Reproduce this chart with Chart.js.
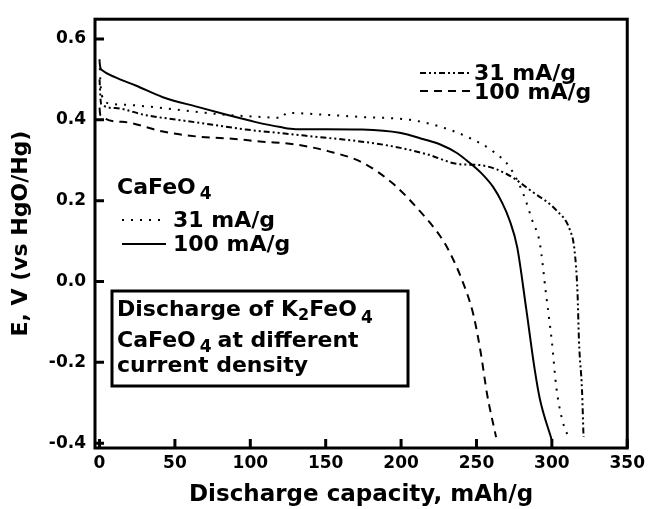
<!DOCTYPE html>
<html lang="en">
<head>
<meta charset="UTF-8">
<title>Discharge of K2FeO4 and CaFeO4</title>
<script src="https://cdn.jsdelivr.net/npm/chart.js@4.4.1/dist/chart.umd.min.js"></script>
<style>
  html, body { margin: 0; padding: 0; background: #fff; }
  #wrap { width: 650px; height: 509px; }
</style>
</head>
<body>
<div id="wrap"><canvas id="chart" width="650" height="509"></canvas></div>
<script>
// discharge curves: capacity in mAh/g, potential in V vs HgO/Hg
const caFe31Cap = [0, 0.5, 1.5, 6, 19, 42, 64, 85, 108, 121, 124, 152, 174, 206, 226, 245, 261, 272, 281, 287, 292, 296, 300, 303, 307, 312];
const caFe31V   = [0.55, 0.50, 0.461, 0.441, 0.437, 0.429, 0.42, 0.412, 0.407, 0.405, 0.417, 0.412, 0.407, 0.40, 0.383, 0.356, 0.322, 0.283, 0.217, 0.151, 0.095, -0.027, -0.149, -0.263, -0.344, -0.393];

const caFe100Cap = [0, 0.5, 2, 10.6, 24, 42, 65, 85, 103, 120, 130, 150, 174, 199, 215, 226, 237, 245, 254, 261, 267, 272, 277, 283, 288.5, 292, 300];
const caFe100V   = [0.545, 0.53, 0.522, 0.505, 0.485, 0.456, 0.432, 0.412, 0.395, 0.382, 0.377, 0.377, 0.376, 0.368, 0.352, 0.339, 0.318, 0.295, 0.265, 0.234, 0.195, 0.151, 0.085, -0.068, -0.215, -0.29, -0.393];

const k2Fe31Cap = [0, 1, 10.6, 30, 52, 75, 97, 118, 141, 174, 195, 217, 239, 252, 270, 287, 303, 312, 315, 317, 318, 320, 321];
const k2Fe31V   = [0.50, 0.44, 0.429, 0.412, 0.40, 0.388, 0.376, 0.368, 0.359, 0.346, 0.334, 0.315, 0.29, 0.288, 0.266, 0.222, 0.176, 0.127, 0.078, -0.027, -0.149, -0.27, -0.385];

const k2Fe100Cap = [0, 0.5, 15, 42, 64, 85, 108, 130, 152, 174, 195, 212, 226, 232, 241, 248, 253, 257, 263];
const k2Fe100V   = [0.43, 0.412, 0.395, 0.371, 0.359, 0.354, 0.346, 0.339, 0.322, 0.295, 0.241, 0.176, 0.112, 0.074, -0.002, -0.083, -0.18, -0.278, -0.385];

const xTicks = [0, 50, 100, 150, 200, 250, 300, 350];
const yTicks = [-0.4, -0.2, 0.0, 0.2, 0.4, 0.6];

const DOTTED = [2, 7];
const DASH_DOT_DOT = [6, 3, 2, 3, 2, 3];
const DASHED = [8, 6];

const FONT = '"DejaVu Sans", sans-serif';

function toPoints(xs, ys) {
  return xs.map((x, i) => ({ x: x, y: ys[i] }));
}

function curve(label, xs, ys, dash) {
  return {
    label: label,
    data: toPoints(xs, ys),
    borderColor: '#000',
    borderWidth: 2,
    borderDash: dash,
    pointRadius: 0,
    fill: false,
    cubicInterpolationMode: 'monotone'
  };
}

// frame plus inward tick marks
const frameTicks = {
  id: 'frameTicks',
  afterDatasetsDraw(chart) {
    const ctx = chart.ctx;
    const a = chart.chartArea;
    const sx = chart.scales.x, sy = chart.scales.y;
    ctx.save();
    ctx.strokeStyle = '#000';
    ctx.setLineDash([]);
    ctx.lineWidth = 3;
    ctx.strokeRect(a.left, a.top, a.right - a.left, a.bottom - a.top);
    ctx.beginPath();
    xTicks.forEach(v => {
      const px = sx.getPixelForValue(v);
      ctx.moveTo(px, a.bottom);
      ctx.lineTo(px, a.bottom - 9);
    });
    yTicks.forEach(v => {
      const py = sy.getPixelForValue(v);
      ctx.moveTo(a.left, py);
      ctx.lineTo(a.left + 9, py);
    });
    ctx.stroke();
    ctx.restore();
  }
};

// draw a run of text pieces, some of them lowered as subscripts
function richText(ctx, parts, x, y) {
  let cx = x;
  parts.forEach(p => {
    ctx.font = 'bold ' + p.size + 'px ' + FONT;
    ctx.fillText(p.t, cx, y + (p.dy || 0));
    cx += ctx.measureText(p.t).width + (p.gap || 0);
  });
}

function sample(ctx, x1, x2, y, dash) {
  ctx.save();
  ctx.lineWidth = 2;
  ctx.setLineDash(dash);
  ctx.beginPath();
  ctx.moveTo(x1, y);
  ctx.lineTo(x2, y);
  ctx.stroke();
  ctx.restore();
}

const notes = {
  id: 'notes',
  afterDraw(chart) {
    const ctx = chart.ctx;
    ctx.save();
    ctx.fillStyle = '#000';
    ctx.strokeStyle = '#000';
    ctx.textBaseline = 'alphabetic';
    ctx.textAlign = 'left';

    // K2FeO4 legend, top right
    sample(ctx, 420, 471, 73, DASH_DOT_DOT);
    sample(ctx, 420, 471, 91, DASHED);
    ctx.font = 'bold 22px ' + FONT;
    ctx.fillText('31 mA/g', 474, 80);
    ctx.fillText('100 mA/g', 474, 99);

    // CaFeO4 legend
    richText(ctx, [{ t: 'CaFeO', size: 22, gap: 4 }, { t: '4', size: 17, dy: 5 }], 117, 194);
    sample(ctx, 122, 166, 220, DOTTED);
    sample(ctx, 122, 166, 244, []);
    ctx.font = 'bold 22px ' + FONT;
    ctx.fillText('31 mA/g', 173, 227);
    ctx.fillText('100 mA/g', 173, 251);

    // boxed caption
    ctx.lineWidth = 3;
    ctx.setLineDash([]);
    ctx.strokeRect(112, 291, 296, 95);
    richText(ctx, [
      { t: 'Discharge of K', size: 22 },
      { t: '2', size: 16, dy: 4 },
      { t: 'FeO', size: 22, gap: 4 },
      { t: '4', size: 17, dy: 7 }
    ], 117, 316);
    richText(ctx, [
      { t: 'CaFeO', size: 22, gap: 4 },
      { t: '4', size: 17, dy: 5, gap: 6 },
      { t: 'at different', size: 22 }
    ], 117, 347);
    richText(ctx, [{ t: 'current density', size: 22 }], 117, 372);
    ctx.restore();
  }
};

new Chart(document.getElementById('chart'), {
  type: 'line',
  data: {
    datasets: [
      curve('CaFeO4 31 mA/g', caFe31Cap, caFe31V, DOTTED),
      curve('CaFeO4 100 mA/g', caFe100Cap, caFe100V, []),
      curve('K2FeO4 31 mA/g', k2Fe31Cap, k2Fe31V, DASH_DOT_DOT),
      curve('K2FeO4 100 mA/g', k2Fe100Cap, k2Fe100V, DASHED)
    ]
  },
  options: {
    responsive: false,
    animation: false,
    layout: { padding: { top: 13, right: 22, left: 0, bottom: 0 } },
    plugins: { legend: { display: false }, tooltip: { enabled: false } },
    scales: {
      x: {
        type: 'linear',
        min: -3,
        max: 350,
        afterBuildTicks: s => { s.ticks = xTicks.map(v => ({ value: v })); },
        afterFit: s => { s.height = 61; },
        grid: { display: false, drawTicks: false },
        border: { display: false },
        ticks: {
          color: '#000',
          padding: 5,
          maxRotation: 0,
          font: { family: FONT, size: 17, weight: 'bold' },
          callback: v => String(v)
        },
        title: {
          display: true,
          text: 'Discharge capacity, mAh/g',
          color: '#000',
          padding: { top: 0, bottom: 0 },
          font: { family: FONT, size: 23, weight: 'bold' }
        }
      },
      y: {
        type: 'linear',
        min: -0.412,
        max: 0.649,
        afterBuildTicks: s => { s.ticks = yTicks.map(v => ({ value: v })); },
        afterFit: s => { s.width = 95; },
        grid: { display: false, drawTicks: false },
        border: { display: false },
        ticks: {
          color: '#000',
          padding: 9,
          font: { family: FONT, size: 17, weight: 'bold' },
          callback: v => v.toFixed(1)
        },
        title: {
          display: true,
          text: 'E, V (vs HgO/Hg)',
          color: '#000',
          padding: { top: 8, bottom: 0 },
          font: { family: FONT, size: 22, weight: 'bold' }
        }
      }
    }
  },
  plugins: [frameTicks, notes]
});
</script>
</body>
</html>
